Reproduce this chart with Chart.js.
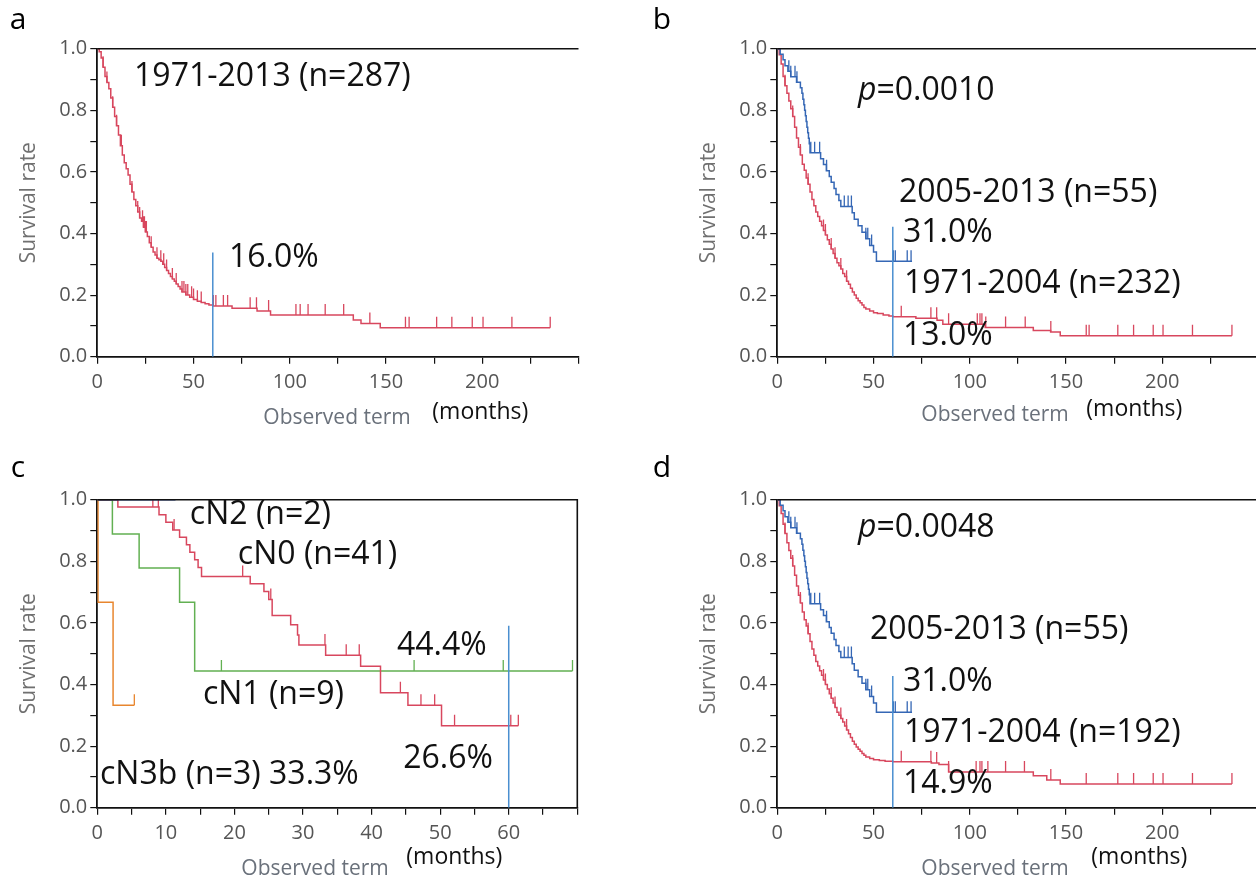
<!DOCTYPE html>
<html><head><meta charset="utf-8">
<script src="https://cdn.jsdelivr.net/npm/chart.js@4.4.1/dist/chart.umd.min.js"></script>
<style>
html,body{margin:0;padding:0;background:#fff;width:1256px;height:881px;overflow:hidden;position:relative;}
canvas{position:absolute;left:0;top:0;}
</style></head><body>
<canvas id="pa" width="1300" height="881"></canvas>
<canvas id="pb" width="1300" height="881"></canvas>
<canvas id="pc" width="1300" height="881"></canvas>
<canvas id="pd" width="1300" height="881"></canvas>
<script>
// ---------- tick labels ----------
const yTickValues = [0,0.1,0.2,0.3,0.4,0.5,0.6,0.7,0.8,0.9,1.0];
const yTickLabels = ['0.0','0.2','0.4','0.6','0.8','1.0'];
const xTickValuesLong = [0,25,50,75,100,125,150,175,200,225,250];
const xTickLabelsLong = ['0','50','100','150','200'];
const xTickValuesC = [0,5,10,15,20,25,30,35,40,45,50,55,60,65,70];
const xTickLabelsC = ['0','10','20','30','40','50','60'];

// ---------- panel a : 1971-2013 (n=287) ----------
const aTimes = [0,1,2,3,4,5,6,7,8,9,10,11,12,13,14,15,16,17,18,19,20,21,22,23,24,25,26,27,28,29,30,31,32,33,34,35,36,37,38,39,40,41,42,43,44,46,48,50,52,54,56,58,60,70,83,90,133,137,147,235.3];
const aSurv  = [1.0,0.99,0.97,0.94,0.91,0.89,0.87,0.84,0.81,0.78,0.75,0.72,0.685,0.655,0.63,0.61,0.59,0.56,0.535,0.51,0.49,0.47,0.45,0.44,0.42,0.405,0.39,0.37,0.355,0.34,0.33,0.32,0.315,0.31,0.30,0.29,0.28,0.27,0.26,0.252,0.245,0.236,0.228,0.22,0.21,0.2,0.193,0.186,0.18,0.176,0.172,0.168,0.165,0.157,0.148,0.135,0.119,0.108,0.094,0.094];
const aCensor = [3,5,8,10,12.5,18,21,22,23.5,24,24.5,25,25.5,28,31,33,34.5,36,39,41,44,45,46,47,49,50,52,54,60.3,61.6,65.5,67.7,79.4,82.7,89,103.2,105.4,109.5,118.4,128,141.6,160.1,162,176.3,184.2,194.8,200.4,215.4,235.3];
const aMarkTop = 0.338;

// ---------- panel b ----------
const bNewTimes = [0,1.5,3,4,5.5,7,10,12,12.8,13.3,13.8,14.2,14.6,15,15.4,15.8,16.2,16.6,17,22.5,24,25.5,27,28,29.5,30.5,32,33,38.9,40,42,44,46,48,50,51.5,70];
const bNewSurv  = [1,0.982,0.964,0.945,0.927,0.909,0.891,0.873,0.855,0.836,0.818,0.8,0.782,0.764,0.745,0.727,0.709,0.691,0.662,0.643,0.624,0.604,0.585,0.566,0.546,0.527,0.507,0.488,0.467,0.446,0.425,0.404,0.383,0.361,0.34,0.31,0.31];
const bNewCensor = [6,7,9.2,10.2,17.4,19.4,22,25.6,34.8,36.8,38.5,46,47,49,60.3,61.3,67.5,69.5];
const bOldTimes = [0,1,2,3,4,5,6,7,8,9,10,11,12,13,14,15,16,17,18,19,20,21,22,23,24,25,26,27,28,29,30,31,32,33,34,35,36,37,38,39,40,41,42,43,44,45,46,48,50,52,55,58,60,72,83,86,108,133,142,147,236.2];
const bOldSurv  = [1,0.98,0.95,0.91,0.88,0.855,0.83,0.805,0.78,0.745,0.71,0.68,0.655,0.625,0.605,0.58,0.56,0.535,0.51,0.49,0.47,0.455,0.44,0.425,0.41,0.395,0.38,0.365,0.35,0.335,0.32,0.305,0.295,0.285,0.27,0.26,0.245,0.235,0.222,0.21,0.2,0.19,0.182,0.175,0.168,0.16,0.155,0.148,0.143,0.14,0.135,0.132,0.13,0.125,0.118,0.105,0.095,0.085,0.08,0.068,0.068];
const bOldCensor = [4,8,12,16,24,25,28,30,33,36,64.4,79.8,82.8,89,103.9,105.3,106.3,108.3,118.6,128.8,142.1,160.5,162,176.9,185.1,195.3,200.4,215.7,236.2];
const bMarkTop = 0.422;

// ---------- panel c ----------
const cN0Times = [0,3,9,10,11,12,13,13.5,14.2,14.7,15.2,22.3,24.3,25,25.5,28.2,29.2,29.4,33.3,38.4,41.3,45.3,50.2,61.4];
const cN0Surv  = [1,0.976,0.951,0.927,0.902,0.878,0.854,0.829,0.805,0.78,0.751,0.727,0.702,0.676,0.624,0.594,0.561,0.528,0.495,0.459,0.373,0.333,0.266,0.266];
const cN0Censor = [8.1,8.9,11.2,21.2,25.3,33.2,36.3,38.2,44.2,47.2,49.2,52.1,60.3,61.4];
const cN1Times = [0,2.2,6.1,12,14.2,69.3];
const cN1Surv  = [1,0.889,0.778,0.667,0.444,0.444];
const cN1Censor = [18.1,46.2,59.2,69.3];
const cN2Times = [0,11.4];
const cN2Surv  = [1,1];
const cN3bTimes = [0,0.1,2.3,5.4];
const cN3bSurv  = [1,0.667,0.333,0.333];
const cN3bCensor = [5.4];
const cMarkTop = 0.591;

// ---------- panel d ----------
const dNewTimes = [0,1.5,3,4,5.5,7,10,12,12.8,13.3,13.8,14.2,14.6,15,15.4,15.8,16.2,16.6,17,22.5,24,25.5,27,28,29.5,30.5,32,33,38.9,40,42,44,46,48,50,51.5,70];
const dNewSurv  = [1,0.982,0.964,0.945,0.927,0.909,0.891,0.873,0.855,0.836,0.818,0.8,0.782,0.764,0.745,0.727,0.709,0.691,0.662,0.643,0.624,0.604,0.585,0.566,0.546,0.527,0.507,0.488,0.467,0.446,0.425,0.404,0.383,0.361,0.34,0.31,0.31];
const dNewCensor = [6,7,9.2,10.2,17.4,19.4,22,25.6,34.8,36.8,38.5,46,47,49,60.3,61.3,67.5,69.5];
const dOldTimes = [0,1,2,3,4,5,6,7,8,9,10,11,12,13,14,15,16,17,18,19,20,21,22,23,24,25,26,27,28,29,30,31,32,33,34,35,36,37,38,39,40,41,42,43,44,45,46,48,50,53,56,60,80,84,89,133,140,147,236.2];
const dOldSurv  = [1,0.98,0.955,0.92,0.89,0.86,0.835,0.81,0.785,0.755,0.72,0.69,0.665,0.635,0.61,0.59,0.565,0.54,0.515,0.495,0.475,0.46,0.445,0.43,0.415,0.4,0.385,0.37,0.355,0.34,0.325,0.31,0.3,0.29,0.278,0.265,0.252,0.24,0.228,0.216,0.206,0.197,0.19,0.183,0.176,0.17,0.165,0.16,0.156,0.153,0.151,0.149,0.145,0.14,0.116,0.104,0.09,0.077,0.077];
const dOldCensor = [4,8,12,16,24,25,28,30,33,36,64.4,79.8,82.8,89,103.3,105.3,106.3,109.4,118.6,128.4,142.1,160.5,176.9,185.1,195.3,200.4,215.7,236.2];
const dMarkTop = 0.428;

// ---------- colours / fonts ----------
const RED = '#d8475e', BLUE = '#3567b5', MARK = '#4a8fd0', GREEN = '#62b052', ORANGE = '#e8862e', NAVY = '#2f4f9f';
const FONT = "'Open Sans','Noto Sans',sans-serif";

// ---------- helpers ----------
function survAt(times, surv, t) { let s = surv[0]; for (let i = 0; i < times.length; i++) { if (times[i] <= t) s = surv[i]; else break; } return s; }
function curveDs(times, surv, color) {
  return { data: times.map((t, i) => ({x: t, y: surv[i]})), borderColor: color, borderWidth: 1.5, stepped: true, pointRadius: 0, fill: false };
}
function censorDs(times, surv, cens, color) {
  return { data: cens.map(t => ({x: t, y: survAt(times, surv, t)})), showLine: false, pointStyle: 'dash', pointRotation: -90,
           pointRadius: 11, pointBorderColor: color, pointBackgroundColor: color, pointBorderWidth: 1.3 };
}
function markDs(top) {
  return { data: [{x: 60, y: 0}, {x: 60, y: top}], borderColor: MARK, borderWidth: 1.5, pointRadius: 0, fill: false };
}

function makePanel(id, P) {
  const W = 1300, H = 881, WY = 60, HX = 40;
  const plug = {
    id: 'panelText' + id,
    afterDraw(chart) {
      const ctx = chart.ctx, ca = chart.chartArea, xs = chart.scales.x, ys = chart.scales.y;
      ctx.save();
      ctx.strokeStyle = '#111'; ctx.lineWidth = 1.6;
      ctx.beginPath(); ctx.moveTo(ca.left, ca.top); ctx.lineTo(ca.right, ca.top);
      if (P.rightBorder) ctx.lineTo(ca.right, ca.bottom);
      ctx.stroke();
      ctx.textBaseline = 'middle'; ctx.textAlign = 'left';
      for (const n of P.notes) {
        let x = xs.getPixelForValue(n.x); const y = ys.getPixelForValue(n.y);
        ctx.fillStyle = '#111';
        if (n.italicP) { ctx.font = 'italic 32px ' + FONT; ctx.fillText('p', x, y); x += ctx.measureText('p').width; }
        ctx.font = '32px ' + FONT; ctx.fillText(n.text, x, y);
      }
      // y title
      ctx.save();
      ctx.translate(ca.left - 68, (ca.top + ca.bottom) / 2); ctx.rotate(-Math.PI / 2);
      ctx.textAlign = 'center'; ctx.fillStyle = '#707070'; ctx.font = '21px ' + FONT;
      ctx.fillText('Survival rate', 0, 0);
      ctx.restore();
      // x titles
      ctx.fillStyle = '#6a717b'; ctx.font = '21px ' + FONT;
      ctx.fillText('Observed term', ca.left + P.obs[0], ca.bottom + P.obs[1]);
      ctx.fillStyle = '#111'; ctx.font = '23px ' + FONT;
      ctx.fillText('(months)', ca.left + P.mon[0], ca.bottom + P.mon[1]);
      // panel letter
      ctx.fillStyle = '#000'; ctx.font = '30px ' + FONT; ctx.textAlign = 'center';
      ctx.fillText(P.letter, P.letterPos[0], P.letterPos[1]);
      ctx.restore();
    }
  };
  const axisGrid = { drawOnChartArea: false, drawTicks: true, tickLength: 7, color: '#111', lineWidth: 1.2 };
  const axisBorder = { display: true, color: '#111', width: 1.8 };
  return new Chart(document.getElementById(id), {
    type: 'line',
    data: { datasets: P.datasets },
    options: {
      responsive: false, animation: false, events: [],
      layout: { padding: { left: P.l - WY, top: P.t, right: W - P.r, bottom: H - P.b - HX } },
      plugins: { legend: { display: false }, tooltip: { enabled: false } },
      scales: {
        x: { type: 'linear', min: 0, max: P.xMax,
             afterFit: s => { s.height = HX; },
             afterBuildTicks: s => { s.ticks = P.xTicks.map(v => ({value: v})); },
             ticks: { autoSkip: false, maxRotation: 0, minRotation: 0, padding: 7, color: '#555', font: { family: FONT, size: 20 },
                      callback: v => P.xLabels.includes(String(v)) ? String(v) : '' },
             grid: axisGrid, border: axisBorder },
        y: { type: 'linear', min: 0, max: 1,
             afterFit: s => { s.width = WY; },
             afterBuildTicks: s => { s.ticks = yTickValues.map(v => ({value: v})); },
             ticks: { autoSkip: false, padding: 3, color: '#555', font: { family: FONT, size: 20 },
                      callback: v => { const t = Number(v).toFixed(1); return yTickLabels.includes(t) ? t : ''; } },
             grid: axisGrid, border: axisBorder }
      }
    },
    plugins: [plug]
  });
}

makePanel('pa', {
  l: 97.3, t: 48.7, r: 578.5, b: 356.7, xMax: 250, xTicks: xTickValuesLong, xLabels: xTickLabelsLong,
  rightBorder: false, letter: 'a', letterPos: [18, 20], obs: [166, 61], mon: [335, 56],
  datasets: [ markDs(aMarkTop), censorDs(aTimes, aSurv, aCensor, RED), curveDs(aTimes, aSurv, RED) ],
  notes: [ {text: '1971-2013 (n=287)', x: 19.1, y: 0.908}, {text: '16.0%', x: 68.4, y: 0.32} ]
});
makePanel('pb', {
  l: 777.3, t: 48.7, r: 1258.5, b: 356.7, xMax: 250, xTicks: xTickValuesLong, xLabels: xTickLabelsLong,
  rightBorder: false, letter: 'b', letterPos: [662, 20], obs: [144, 58], mon: [309, 53],
  datasets: [ markDs(bMarkTop), censorDs(bNewTimes, bNewSurv, bNewCensor, BLUE), curveDs(bNewTimes, bNewSurv, BLUE),
              censorDs(bOldTimes, bOldSurv, bOldCensor, RED), curveDs(bOldTimes, bOldSurv, RED) ],
  notes: [ {italicP: true, text: '=0.0010', x: 41.9, y: 0.863}, {text: '2005-2013 (n=55)', x: 63.2, y: 0.531},
           {text: '31.0%', x: 65.3, y: 0.402}, {text: '1971-2004 (n=232)', x: 65.8, y: 0.236}, {text: '13.0%', x: 65.3, y: 0.067} ]
});
makePanel('pc', {
  l: 97.3, t: 499.7, r: 577.3, b: 807.7, xMax: 70, xTicks: xTickValuesC, xLabels: xTickLabelsC,
  rightBorder: true, letter: 'c', letterPos: [18, 468], obs: [144, 61], mon: [309, 50],
  datasets: [ markDs(cMarkTop), curveDs(cN2Times, cN2Surv, NAVY),
              censorDs(cN0Times, cN0Surv, cN0Censor, RED), curveDs(cN0Times, cN0Surv, RED),
              censorDs(cN1Times, cN1Surv, cN1Censor, GREEN), curveDs(cN1Times, cN1Surv, GREEN),
              censorDs(cN3bTimes, cN3bSurv, cN3bCensor, ORANGE), curveDs(cN3bTimes, cN3bSurv, ORANGE) ],
  notes: [ {text: 'cN2 (n=2)', x: 13.5, y: 0.95}, {text: 'cN0 (n=41)', x: 20.5, y: 0.82}, {text: '44.4%', x: 43.7, y: 0.525},
           {text: 'cN1 (n=9)', x: 15.4, y: 0.366}, {text: '26.6%', x: 44.6, y: 0.158}, {text: 'cN3b (n=3) 33.3%', x: 0.4, y: 0.106} ]
});
makePanel('pd', {
  l: 777.3, t: 499.7, r: 1258.5, b: 807.7, xMax: 250, xTicks: xTickValuesLong, xLabels: xTickLabelsLong,
  rightBorder: false, letter: 'd', letterPos: [662, 468], obs: [144, 61], mon: [314, 50],
  datasets: [ markDs(dMarkTop), censorDs(dNewTimes, dNewSurv, dNewCensor, BLUE), curveDs(dNewTimes, dNewSurv, BLUE),
              censorDs(dOldTimes, dOldSurv, dOldCensor, RED), curveDs(dOldTimes, dOldSurv, RED) ],
  notes: [ {italicP: true, text: '=0.0048', x: 41.9, y: 0.908}, {text: '2005-2013 (n=55)', x: 48.2, y: 0.577},
           {text: '31.0%', x: 65.3, y: 0.408}, {text: '1971-2004 (n=192)', x: 65.8, y: 0.243}, {text: '14.9%', x: 65.3, y: 0.077} ]
});
</script>
</body></html>
